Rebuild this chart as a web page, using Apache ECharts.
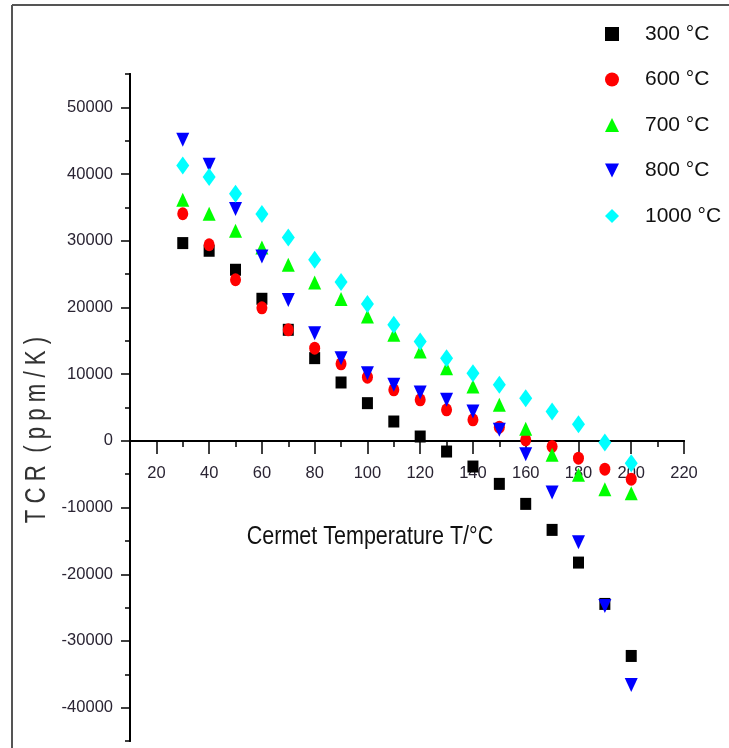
<!DOCTYPE html>
<html>
<head>
<meta charset="utf-8">
<script src="https://cdn.jsdelivr.net/npm/echarts@6/dist/echarts.min.js"></script>
<style>
html,body{margin:0;padding:0;background:#fff;}
#main{width:729px;height:748px;}
</style>
</head>
<body>
<div id="main"></div>
<script>
//陶瓷温度 (x)
var temps = [30, 40, 50, 60, 70, 80, 90, 100, 110, 120, 130, 140, 150, 160, 170, 180, 190, 200];
//各烧结温度下的TCR值
var tcr300 = [29650, 28500, 25650, 21300, 16650, 12400, 8750, 5650, 2900, 650, -1600, -3850, -6450, -9450, -13350, -18250, -24450, -32250];
var tcr600 = [34050, 29400, 24150, 19950, 16650, 13900, 11550, 9550, 7650, 6150, 4650, 3150, 2050, 150, -850, -2600, -4250, -5750];
var tcr700 = [36150, 34050, 31500, 29000, 26400, 23750, 21250, 18650, 15900, 13400, 10900, 8150, 5400, 1800, -2100, -5100, -7250, -7850];
var tcr800 = [45150, 41400, 34750, 27650, 21100, 16150, 12400, 10150, 8400, 7250, 6150, 4400, 1650, -2000, -7750, -15200, -24750, -36600];
var tcr1000 = [41300, 39550, 37050, 34000, 30500, 27150, 23800, 20500, 17400, 14900, 12400, 10150, 8400, 6400, 4400, 2500, -250, -3350];
var seriesNames = ['300 °C', '600 °C', '700 °C', '800 °C', '1000 °C'];
//刻度
var xMajor = [20, 40, 60, 80, 100, 120, 140, 160, 180, 200, 220];
var yMajor = [-40000, -30000, -20000, -10000, 0, 10000, 20000, 30000, 40000, 50000];

var font = "'Liberation Sans',Arial,sans-serif";
var labelColor = '#2a2433';

function toPoints(vals){
	var arr = [];
	for(var i=0;i<temps.length;i++){
		arr.push([temps[i], vals[i]]);
	}
	return arr;
}

var chart = echarts.init(document.getElementById('main'));
var option = {
	backgroundColor: '#fff',
	animation: false,
	grid: {left: 130, right: 45, top: 74, bottom: 7, containLabel: false, outerBoundsMode: 'none'},
	legend: {
		orient: 'vertical',
		left: 600,
		top: 17,
		itemWidth: 14,
		itemHeight: 14,
		itemGap: 21.5,
		textStyle: {fontFamily: font, fontSize: 21, color: '#111', lineHeight: 24, padding: [0,0,0,21]},
		data: seriesNames
	},
	xAxis: [{
		type: 'value', min: 10, max: 220, position: 'bottom', offset: -300,
		axisLine: {onZero: false, lineStyle: {color: '#000', width: 2}},
		axisTick: {length: 13, customValues: xMajor, lineStyle: {color: '#000', width: 1.5}},
		axisLabel: {margin: 24, customValues: xMajor, fontFamily: font, fontSize: 16.5, color: labelColor,
			formatter: function(v){ return String(v); }},
		splitLine: {show: false}
	},{
		type: 'value', min: 10, max: 220, interval: 10, position: 'bottom', offset: -300,
		axisLine: {onZero: false, lineStyle: {color: '#000', width: 2}},
		axisTick: {length: 6, lineStyle: {color: '#000', width: 1.5}},
		axisLabel: {show: false},
		splitLine: {show: false}
	}],
	yAxis: [{
		type: 'value', min: -45000, max: 55000, position: 'left',
		axisLine: {onZero: false, lineStyle: {color: '#000', width: 2}},
		axisTick: {length: 9, customValues: yMajor, lineStyle: {color: '#000', width: 1.5}},
		axisLabel: {margin: 17, customValues: yMajor, fontFamily: font, fontSize: 16.5, color: labelColor,
			formatter: function(v){ return String(v); }},
		splitLine: {show: false}
	},{
		type: 'value', min: -45000, max: 55000, interval: 5000, position: 'left',
		axisLine: {onZero: false, lineStyle: {color: '#000', width: 2}},
		axisTick: {length: 5, lineStyle: {color: '#000', width: 1.5}},
		axisLabel: {show: false},
		splitLine: {show: false}
	}],
	graphic: [
		{type: 'line', shape: {x1: 12, y1: 5, x2: 12, y2: 748}, style: {stroke: '#555', lineWidth: 2}},
		{type: 'line', shape: {x1: 12, y1: 5, x2: 729, y2: 5}, style: {stroke: '#555', lineWidth: 2}},
		{type: 'text', x: 370, y: 537, scaleX: 0.86,
			style: {text: 'Cermet Temperature T/°C', fontFamily: font, fontSize: 25, fill: '#111', textAlign: 'center', textVerticalAlign: 'middle'}},
		{type: 'text', x: 37, y: 430, rotation: Math.PI/2, scaleX: 0.74,
			style: {text: 'T C R  ( p p m / K )', fontFamily: font, fontSize: 30, fill: '#333', textAlign: 'center', textVerticalAlign: 'middle'}}
	],
	series: [
		{name: seriesNames[0], type: 'scatter', symbol: 'rect', symbolSize: [11,12], itemStyle: {color: '#000000', opacity: 1}, data: toPoints(tcr300)},
		{name: seriesNames[1], type: 'scatter', symbol: 'circle', symbolSize: [11,13], itemStyle: {color: '#ff0000', opacity: 1}, data: toPoints(tcr600)},
		{name: seriesNames[2], type: 'scatter', symbol: 'triangle', symbolSize: [13,14], itemStyle: {color: '#00ff00', opacity: 1}, data: toPoints(tcr700)},
		{name: seriesNames[3], type: 'scatter', symbol: 'path://M0,0 L10,0 L5,10 Z', symbolKeepAspect: false, symbolSize: [13,14], itemStyle: {color: '#0000ff', opacity: 1}, data: toPoints(tcr800)},
		{name: seriesNames[4], type: 'scatter', symbol: 'diamond', symbolSize: [13,18], itemStyle: {color: '#00ffff', opacity: 1}, data: toPoints(tcr1000)}
	]
};
chart.setOption(option);
window.addEventListener('resize', function(){ chart.resize(); });
</script>
</body>
</html>
